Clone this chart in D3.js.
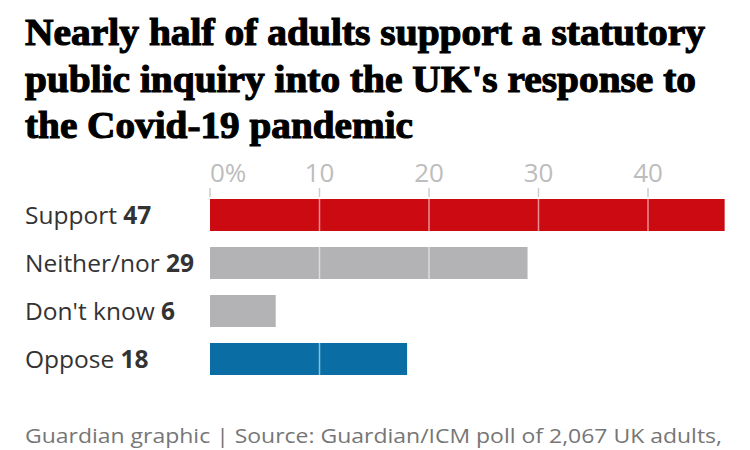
<!DOCTYPE html>
<html>
<head>
<meta charset="utf-8">
<script src="https://cdn.jsdelivr.net/npm/d3@7"></script>
<style>
  html, body { margin: 0; padding: 0; background: #fff; }
  svg { display: block; }
</style>
</head>
<body>
<svg id="chart" width="750" height="450"></svg>
<script>
const titleLines = [
  "Nearly half of adults support a statutory",
  "public inquiry into the UK's response to",
  "the Covid-19 pandemic"
];
const categories = ["Support", "Neither/nor", "Don't know", "Oppose"];
const values = [47, 29, 6, 18];
const barColors = ["#cc0a11", "#b3b3b6", "#b3b3b6", "#0a6ea5"];
const tickValues = [0, 10, 20, 30, 40];
const tickLabels = ["0%", "10", "20", "30", "40"];
const footer = "Guardian graphic | Source: Guardian/ICM poll of 2,067 UK adults,";

const svg = d3.select("#chart");

// Title
const titleWidths = [680, 671, 388];
titleLines.forEach((t, i) => {
  svg.append("text")
    .attr("x", 25)
    .attr("y", 45 + i * 46.5)
    .attr("font-family", "'Liberation Serif', serif")
    .attr("font-weight", "bold")
    .attr("font-size", 37)
    .attr("fill", "#000")
    .attr("stroke", "#000")
    .attr("stroke-width", 1.1)
    .attr("textLength", titleWidths[i])
    .attr("lengthAdjust", "spacingAndGlyphs")
    .text(t);
});

const x = d3.scaleLinear().domain([0, 47]).range([210, 210 + 10.95 * 47]);
const y = d3.scaleBand().domain(categories).range([199, 375]).paddingInner(1 / 3).paddingOuter(0);

// tick labels and tick marks
const axis = svg.append("g");
axis.selectAll("text.tick").data(tickValues).join("text")
  .attr("class", "tick")
  .attr("x", d => x(d))
  .attr("y", 182)
  .attr("text-anchor", d => d === 0 ? "start" : "middle")
  .attr("font-family", "'Open Sans', sans-serif")
  .attr("font-size", 26)
  .attr("fill", "#bdbdbd")
  .text((d, i) => tickLabels[i]);
axis.selectAll("line.tick").data(tickValues).join("line")
  .attr("class", "tick")
  .attr("x1", d => x(d)).attr("x2", d => x(d))
  .attr("y1", 188).attr("y2", 197)
  .attr("stroke", "#cccccc").attr("stroke-width", 1.5);

// bars
svg.append("g").selectAll("rect").data(categories).join("rect")
  .attr("x", x(0))
  .attr("y", d => y(d))
  .attr("width", (d, i) => x(values[i]) - x(0))
  .attr("height", y.bandwidth())
  .attr("fill", (d, i) => barColors[i]);

// gridlines over bars
svg.append("g").selectAll("line").data(tickValues.slice(1)).join("line")
  .attr("x1", d => x(d)).attr("x2", d => x(d))
  .attr("y1", y(categories[0])).attr("y2", y(categories[3]) + y.bandwidth())
  .attr("stroke", "#ffffff").attr("stroke-opacity", 0.55).attr("stroke-width", 1.5);

// category labels
const lab = svg.append("g").selectAll("text").data(categories).join("text")
  .attr("x", 25)
  .attr("y", d => y(d) + y.bandwidth() / 2 + 9)
  .attr("font-family", "'Open Sans', sans-serif")
  .attr("font-size", 24.5)
  .attr("fill", "#333333");
lab.append("tspan").text(d => d + " ");
lab.append("tspan").attr("font-weight", "bold").text((d, i) => values[i]);

// footer
svg.append("text")
  .attr("x", 25)
  .attr("y", 443)
  .attr("font-family", "'Open Sans', sans-serif")
  .attr("font-size", 20)
  .attr("fill", "#767676")
  .attr("textLength", 697)
  .attr("lengthAdjust", "spacingAndGlyphs")
  .text(footer);
</script>
</body>
</html>
